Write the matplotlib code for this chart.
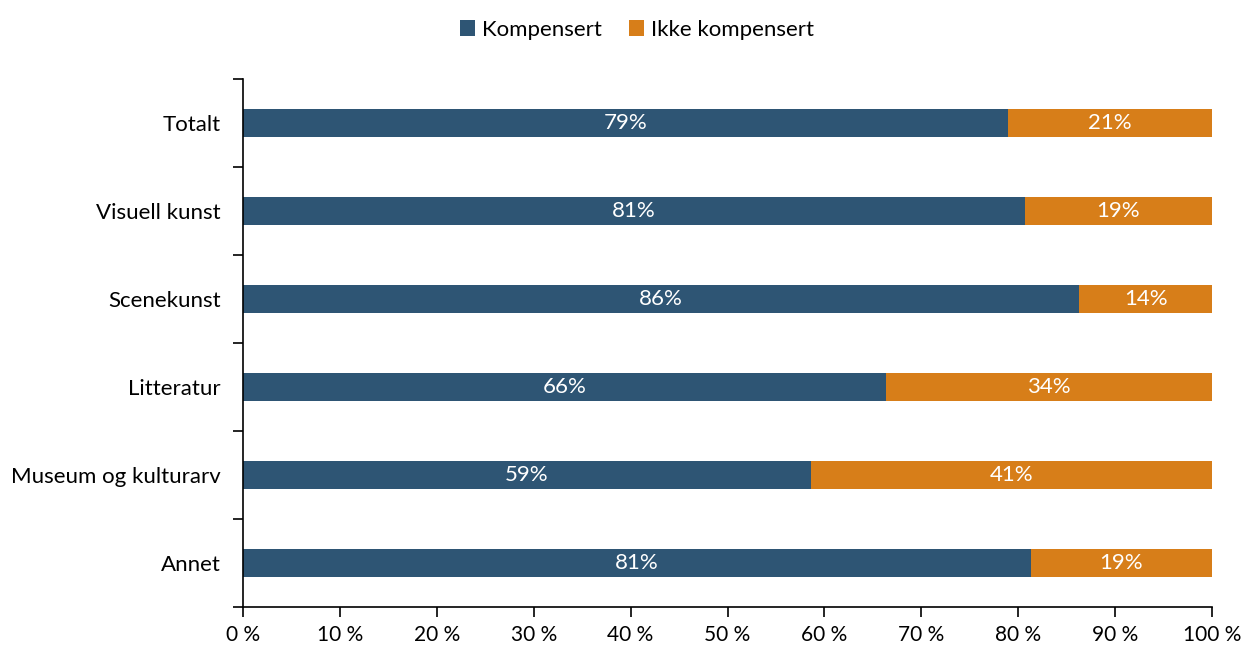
import matplotlib.pyplot as plt
import numpy as np

categories = ['Totalt', 'Visuell kunst', 'Scenekunst', 'Litteratur', 'Museum og kulturarv', 'Annet']
kompensert = [78.9, 80.7, 86.3, 66.4, 58.6, 81.3]
ikke_kompensert = [21.1, 19.3, 13.7, 33.6, 41.4, 18.7]
x_ticks = list(range(0, 101, 10))

blue = '#2E5574'
orange = '#D77E19'

plt.rcParams['font.family'] = ['Lato', 'DejaVu Sans']

fig = plt.figure(figsize=(12.44, 6.46), dpi=100)
ax = fig.add_axes([243 / 1244, 1 - 607 / 646, (1212 - 243) / 1244, (607 - 79) / 646])

y = np.arange(len(categories))
h = 0.31
b1 = ax.barh(y, kompensert, height=h, color=blue, label='Kompensert')
b2 = ax.barh(y, ikke_kompensert, left=kompensert, height=h, color=orange, label='Ikke kompensert')

# value labels in the middle of each segment
for vals, lefts in [(kompensert, [0] * len(y)), (ikke_kompensert, kompensert)]:
    for yi, v, l in zip(y, vals, lefts):
        ax.text(l + v / 2, yi, f'{round(v)}%', ha='center', va='center',
                color='white', fontsize=16)

ax.set_xlim(0, 100)
ax.set_ylim(len(categories) - 0.5, -0.5)
ax.set_xticks(x_ticks)
ax.set_xticklabels([f'{t} %' for t in x_ticks], fontsize=15)
ax.set_yticks(y)
ax.set_yticklabels(categories, fontsize=16)
ax.set_yticks(np.arange(-0.5, len(categories)), minor=True)
ax.tick_params(axis='y', which='major', length=0, pad=16)
ax.tick_params(axis='y', which='minor', length=7, width=1.2, direction='out')
ax.tick_params(axis='x', length=7, width=1.2, direction='out', pad=6)

for s in ['top', 'right']:
    ax.spines[s].set_visible(False)
for s in ['left', 'bottom']:
    ax.spines[s].set_linewidth(1.2)

fig.legend(handles=[b1, b2], loc='upper center', bbox_to_anchor=(0.512, 1.0), ncol=2,
           frameon=False, fontsize=16, handlelength=0.7, handleheight=0.7,
           handletextpad=0.3, columnspacing=1.2)

fig.savefig('out.png', dpi=100)
